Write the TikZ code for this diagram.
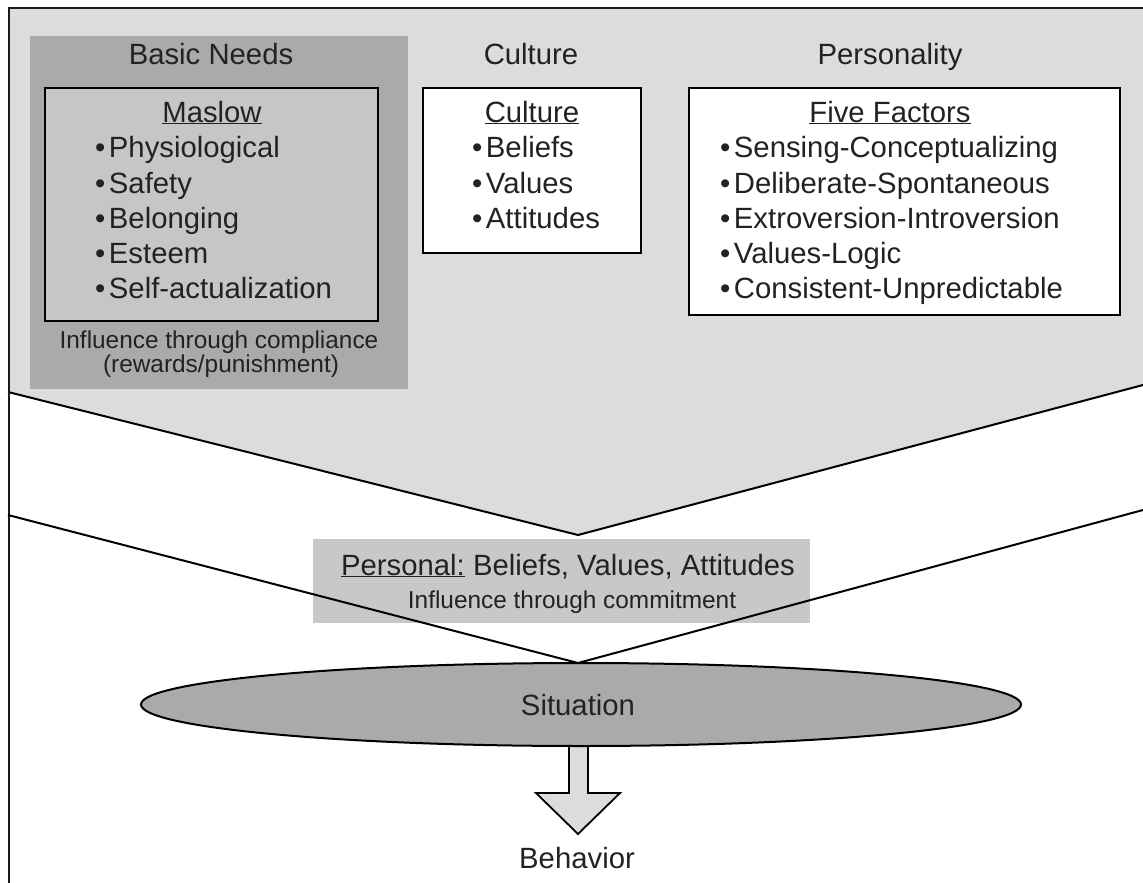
\documentclass[tikz,border=0pt]{standalone}
\usepackage{fontspec}
\setmainfont{Liberation Sans}
\usetikzlibrary{shapes.geometric}
\definecolor{lightbg}{HTML}{DCDCDC}
\definecolor{darkbox}{HTML}{AAAAAA}
\definecolor{midbox}{HTML}{C6C6C6}
\definecolor{personalbox}{HTML}{C8C8C8}
\definecolor{txt}{HTML}{222222}
\newcommand{\fbig}{\fontsize{29.3}{35}\selectfont}
\newcommand{\fsmall}{\fontsize{24.4}{28}\selectfont}
\newcommand{\bul}{\textbullet\hspace{0.12em}}
\begin{document}
\begin{tikzpicture}[x=1pt,y=-1pt,
  lbl/.style={font=\fbig, text=txt, inner sep=0, anchor=base},
  item/.style={font=\fbig, text=txt, inner sep=0, anchor=base west},
  note/.style={font=\fsmall, text=txt, inner sep=0, anchor=base},
  panel/.style={draw=black, line width=2.2pt, inner sep=0},
  ln/.style={line width=2pt, draw=black}]
\useasboundingbox (0,0) rectangle (1143,883);

% background top region
\fill[lightbg] (8,8) -- (1143,8) -- (1143,385) -- (578,535) -- (8,392) -- cycle;
\coordinate (ul) at (8,392);
\coordinate (uv) at (578,535);
\coordinate (ur) at (1143,385);
\draw[ln] (ul) -- (uv) -- (ur);

% frame
\coordinate (fb) at (9,883);
\coordinate (ftl) at (9,8);
\coordinate (ftr) at (1143,8);
\draw[line width=2.5pt, draw=black!90] (fb) -- (ftl) -- (ftr);

% panels
\node[panel, draw=none, fill=darkbox, minimum width=378, minimum height=353] (needs) at (219,212.5) {};
\node[panel, fill=midbox, minimum width=333, minimum height=233] (maslow) at (211.5,204.5) {};
\node[panel, fill=white, minimum width=218, minimum height=165] (cult) at (532,170.5) {};
\node[panel, fill=white, minimum width=431, minimum height=227] (pers) at (904.5,201.5) {};
\node[fill=personalbox, minimum width=497, minimum height=84, inner sep=0] (personal) at (561.5,581) {};

% lower V
\coordinate (ll) at (8,515);
\coordinate (lv) at (578,663);
\coordinate (lr) at (1143,510);
\draw[ln] (ll) -- (lv) -- (lr);

% arrow to behavior
\coordinate (a1) at (569,735);
\coordinate (a2) at (569,793);
\coordinate (a3) at (536,793);
\coordinate (a4) at (578,834);
\coordinate (a5) at (620,793);
\coordinate (a6) at (588,793);
\coordinate (a7) at (588,735);
\draw[line width=1.8pt, fill=lightbg, line join=miter] (a1) -- (a2) -- (a3) -- (a4) -- (a5) -- (a6) -- (a7);

% situation ellipse
\node[ellipse, draw=black, line width=2pt, fill=darkbox, minimum width=880, minimum height=83, inner sep=0] (sit) at (581,704.5) {};
\node[lbl] (sittxt) at (578,715) {Situation};
\node[lbl] (beh) at (577,868) {Behavior};

% headings
\node[lbl] (t1) at (211,65) {Basic Needs};
\node[lbl] (t2) at (531,65) {Culture};
\node[lbl] (t3) at (890,65) {Personality};
\node[lbl] (h1) at (212,122) {\underline{Maslow}};
\node[lbl] (h2) at (532,122) {\underline{Culture}};
\node[lbl] (h3) at (890,122) {\underline{Five Factors}};

% Maslow items
\node[item] (m1) at (95,157) {\bul Physiological};
\node[item] (m2) at (95,193) {\bul Safety};
\node[item] (m3) at (95,228) {\bul Belonging};
\node[item] (m4) at (95,263) {\bul Esteem};
\node[item] (m5) at (95,298) {\bul Self-actualization};

% Culture items
\node[item] (c1) at (472,157) {\bul Beliefs};
\node[item] (c2) at (472,193) {\bul Values};
\node[item] (c3) at (472,228) {\bul Attitudes};

% Five factors items
\node[item] (f1) at (720,157) {\bul Sensing-Conceptualizing};
\node[item] (f2) at (720,193) {\bul Deliberate-Spontaneous};
\node[item] (f3) at (720,228) {\bul Extroversion-Introversion};
\node[item] (f4) at (720,263) {\bul Values-Logic};
\node[item] (f5) at (720,298) {\bul Consistent-Unpredictable};

% notes
\node[note] (n1) at (219,348) {Influence through compliance};
\node[note] (n2) at (221,372) {(rewards/punishment)};
\node[lbl] (p1) at (568,575) {\underline{Personal:} Beliefs, Values, Attitudes};
\node[note] (p2) at (572,608) {Influence through commitment};
\end{tikzpicture}
\end{document}
